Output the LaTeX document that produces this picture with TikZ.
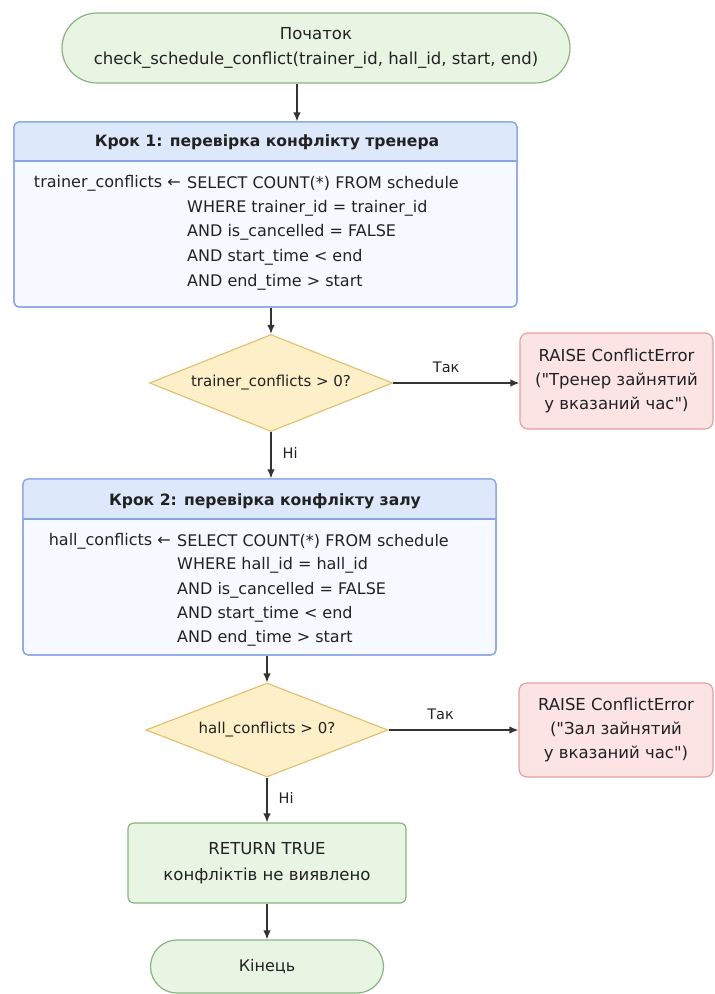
\documentclass[tikz,border=0pt]{standalone}
\usepackage{fontspec}
\setmainfont{DejaVu Sans}[Ligatures=TeXOff]
\usetikzlibrary{arrows.meta,shapes.geometric}
\definecolor{gfill}{RGB}{232,245,227}
\definecolor{gdraw}{RGB}{137,180,128}
\definecolor{bhead}{RGB}{221,232,251}
\definecolor{bbody}{RGB}{246,249,255}
\definecolor{bdraw}{RGB}{138,164,226}
\definecolor{yfill}{RGB}{253,240,200}
\definecolor{ydraw}{RGB}{226,193,118}
\definecolor{rfill}{RGB}{252,228,228}
\definecolor{rdraw}{RGB}{226,160,160}
\definecolor{ink}{RGB}{34,34,34}
\definecolor{conn}{RGB}{51,51,51}
\tikzset{
  base/.style={inner sep=0pt, text=ink},
  term/.style={base, draw=gdraw, fill=gfill, line width=1.2pt, align=center},
  stepbox/.style={draw=bdraw, fill=bbody, line width=1.2pt, rounded corners=5pt, inner sep=0pt},
  hdr/.style={base, font=\bfseries\fontsize{15.6}{18}\selectfont},
  sql/.style={base, font=\fontsize{16}{20}\selectfont},
  dec/.style={base, diamond, draw=ydraw, fill=yfill, line width=1.2pt, aspect=2.5, font=\fontsize{15}{18}\selectfont},
  errbox/.style={base, draw=rdraw, fill=rfill, line width=1.2pt, rounded corners=8pt, align=center, font=\fontsize{16.5}{24}\selectfont},
  retbox/.style={base, draw=gdraw, fill=gfill, line width=1.2pt, rounded corners=6pt, align=center, font=\fontsize{16.5}{26}\selectfont},
  lbl/.style={base, font=\fontsize{14.5}{16}\selectfont},
  arr/.style={draw=conn, line width=1.3pt, -{Latex[length=9pt,width=7.5pt]}},
}
\begin{document}
\begin{tikzpicture}[x=1pt,y=-1pt]
\useasboundingbox[fill=white] (0,0) rectangle (715,994);

% start
\node[term, rounded corners=35pt, minimum width=508pt, minimum height=70pt,
      font=\fontsize{16.5}{25}\selectfont] (start) at (316,48)
  {Початок\\check\_schedule\_conflict(trainer\_id, hall\_id, start, end)};

% step 1
\node[stepbox, minimum width=503pt, minimum height=185pt] (step1) at (265.5,214.5) {};
\begin{scope}
  \clip[rounded corners=5pt] (14,122) rectangle (517,307);
  \fill[bhead] (14,122) rectangle (517,161);
\end{scope}
\draw[bdraw, line width=1.2pt, rounded corners=5pt] (14,122) rectangle (517,307);
\draw[bdraw, line width=1.2pt] (14,161) -- (517,161);
\node[hdr] (h1) at (267,142) {Крок 1: перевірка конфлікту тренера};
\node[sql, anchor=east] (v1) at (181,183) {trainer\_conflicts ←};
\node[sql, anchor=west] (a1) at (187,183) {SELECT COUNT(*) FROM schedule};
\node[sql, anchor=west] (a2) at (187,208) {WHERE trainer\_id = trainer\_id};
\node[sql, anchor=west] (a3) at (187,232) {AND is\_cancelled = FALSE};
\node[sql, anchor=west] (a4) at (187,257) {AND start\_time < end};
\node[sql, anchor=west] (a5) at (187,282) {AND end\_time > start};

% decision 1
\node[dec, minimum width=243pt, minimum height=97pt] (d1) at (271,383) {trainer\_conflicts > 0?};
\node[errbox, minimum width=193pt, minimum height=96pt] (e1) at (616.5,381)
  {RAISE ConflictError\\("Тренер зайнятий\\у вказаний час")};

% step 2
\node[stepbox, minimum width=473pt, minimum height=176pt] (step2) at (259.5,567) {};
\begin{scope}
  \clip[rounded corners=5pt] (23,479) rectangle (496,655);
  \fill[bhead] (23,479) rectangle (496,519);
\end{scope}
\draw[bdraw, line width=1.2pt, rounded corners=5pt] (23,479) rectangle (496,655);
\draw[bdraw, line width=1.2pt] (23,519) -- (496,519);
\node[hdr] (h2) at (265,501) {Крок 2: перевірка конфлікту залу};
\node[sql, anchor=east] (w1) at (171,541) {hall\_conflicts ←};
\node[sql, anchor=west] (b1) at (177,541) {SELECT COUNT(*) FROM schedule};
\node[sql, anchor=west] (b2) at (177,565) {WHERE hall\_id = hall\_id};
\node[sql, anchor=west] (b3) at (177,590) {AND is\_cancelled = FALSE};
\node[sql, anchor=west] (b4) at (177,614) {AND start\_time < end};
\node[sql, anchor=west] (b5) at (177,638) {AND end\_time > start};

% decision 2
\node[dec, minimum width=242pt, minimum height=94pt] (d2) at (267,730) {hall\_conflicts > 0?};
\node[errbox, minimum width=194pt, minimum height=94pt] (e2) at (616,730)
  {RAISE ConflictError\\("Зал зайнятий\\у вказаний час")};

% return and end
\node[retbox, minimum width=278pt, minimum height=80pt] (ret) at (267,863)
  {RETURN TRUE\\конфліктів не виявлено};
\node[term, rounded corners=26.5pt, minimum width=233pt, minimum height=53pt,
      font=\fontsize{16}{20}\selectfont] (fin) at (267,966.5) {Кінець};

% connectors
\draw[arr] ([xshift=-19pt]start.south) -- ([xshift=-19pt]start.south |- step1.north);
\draw[arr] (step1.south -| d1.north) -- (d1.north);
\draw[arr] (d1.east) -- node[lbl, above=10pt, pos=0.42] {Так} (e1.west |- d1.east);
\draw[arr] (d1.south) -- node[lbl, right=11pt, pos=0.45] {Ні} (d1.south |- step2.north);
\draw[arr] (step2.south -| d2.north) -- (d2.north);
\draw[arr] (d2.east) -- node[lbl, above=10pt, pos=0.4] {Так} (e2.west |- d2.east);
\draw[arr] (d2.south) -- node[lbl, right=11pt, pos=0.45] {Ні} (ret.north -| d2.south);
\draw[arr] (ret.south) -- (ret.south |- fin.north);
\end{tikzpicture}
\end{document}
